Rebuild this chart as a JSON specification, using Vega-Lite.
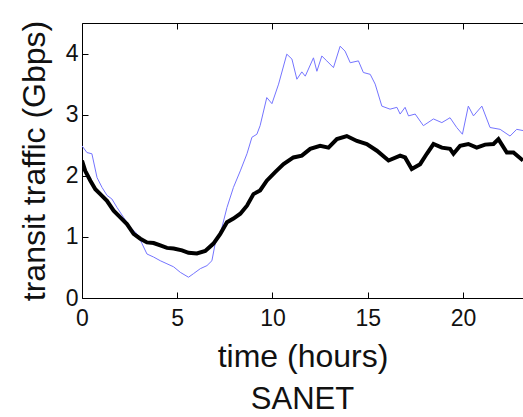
{
 "$schema": "https://vega.github.io/schema/vega-lite/v6.json",
 "width": 441, "height": 275,
 "autosize": "none",
 "padding": {"left": 82, "top": 23, "right": 0, "bottom": 119},
 "background": "white",
 "config": {"view": {"stroke": null}, "font": "Liberation Sans"},
 "title": {"text": "SANET", "orient": "bottom", "fontSize": 31, "fontWeight": "normal", "font": "Liberation Sans", "color": "#111", "offset": 13, "anchor": "middle"},
 "datasets": {
  "blue": [
   {"h":0,"v":2.49},{"h":0.26,"v":2.38},{"h":0.52,"v":2.36},{"h":0.79,"v":1.97},{"h":1.05,"v":1.81},{"h":1.31,"v":1.68},{"h":1.57,"v":1.62},{"h":1.84,"v":1.48},{"h":2.18,"v":1.32},{"h":2.53,"v":1.16},{"h":2.89,"v":1.05},{"h":3.15,"v":0.89},{"h":3.41,"v":0.72},{"h":3.76,"v":0.67},{"h":4.11,"v":0.61},{"h":4.46,"v":0.56},{"h":4.81,"v":0.51},{"h":5.16,"v":0.42},{"h":5.59,"v":0.34},{"h":5.86,"v":0.40},{"h":6.21,"v":0.48},{"h":6.56,"v":0.53},{"h":6.82,"v":0.61},{"h":6.99,"v":0.89},{"h":7.26,"v":1.05},{"h":7.61,"v":1.48},{"h":7.95,"v":1.81},{"h":8.31,"v":2.08},{"h":8.66,"v":2.36},{"h":8.92,"v":2.63},{"h":9.18,"v":2.68},{"h":9.35,"v":2.82},{"h":9.7,"v":3.28},{"h":9.97,"v":3.18},{"h":10.32,"v":3.5},{"h":10.75,"v":3.99},{"h":11.02,"v":3.91},{"h":11.28,"v":3.58},{"h":11.54,"v":3.70},{"h":11.72,"v":3.63},{"h":12.15,"v":3.93},{"h":12.33,"v":3.71},{"h":12.59,"v":3.96},{"h":12.85,"v":3.88},{"h":13.2,"v":3.77},{"h":13.55,"v":4.12},{"h":13.81,"v":4.04},{"h":14.08,"v":3.85},{"h":14.51,"v":3.88},{"h":14.77,"v":3.69},{"h":15.13,"v":3.66},{"h":15.39,"v":3.50},{"h":15.74,"v":3.14},{"h":16.17,"v":3.09},{"h":16.53,"v":3.12},{"h":16.7,"v":3.01},{"h":16.96,"v":3.12},{"h":17.14,"v":2.98},{"h":17.49,"v":3.01},{"h":17.92,"v":2.82},{"h":18.45,"v":2.93},{"h":18.89,"v":2.87},{"h":19.32,"v":2.95},{"h":19.67,"v":2.79},{"h":19.97,"v":2.68},{"h":20.28,"v":3.14},{"h":20.55,"v":2.98},{"h":20.99,"v":3.14},{"h":21.42,"v":2.79},{"h":21.95,"v":2.76},{"h":22.47,"v":2.65},{"h":22.82,"v":2.76},{"h":23.15,"v":2.74}
  ],
  "black": [
   {"h":0,"v":2.25},{"h":0.17,"v":2.08},{"h":0.44,"v":1.92},{"h":0.70,"v":1.78},{"h":0.96,"v":1.70},{"h":1.31,"v":1.59},{"h":1.66,"v":1.43},{"h":2.01,"v":1.32},{"h":2.36,"v":1.21},{"h":2.71,"v":1.05},{"h":3.06,"v":0.97},{"h":3.41,"v":0.91},{"h":3.76,"v":0.90},{"h":4.11,"v":0.86},{"h":4.46,"v":0.82},{"h":4.81,"v":0.81},{"h":5.25,"v":0.78},{"h":5.59,"v":0.74},{"h":6.03,"v":0.73},{"h":6.47,"v":0.77},{"h":6.9,"v":0.89},{"h":7.26,"v":1.05},{"h":7.61,"v":1.24},{"h":7.95,"v":1.30},{"h":8.31,"v":1.38},{"h":8.66,"v":1.51},{"h":9.0,"v":1.70},{"h":9.35,"v":1.76},{"h":9.7,"v":1.92},{"h":10.14,"v":2.06},{"h":10.58,"v":2.19},{"h":11.1,"v":2.30},{"h":11.54,"v":2.33},{"h":11.98,"v":2.44},{"h":12.5,"v":2.49},{"h":12.94,"v":2.46},{"h":13.38,"v":2.60},{"h":13.9,"v":2.65},{"h":14.43,"v":2.57},{"h":14.95,"v":2.52},{"h":15.48,"v":2.41},{"h":16.09,"v":2.25},{"h":16.7,"v":2.33},{"h":16.96,"v":2.30},{"h":17.31,"v":2.11},{"h":17.75,"v":2.19},{"h":18.1,"v":2.36},{"h":18.45,"v":2.52},{"h":18.89,"v":2.46},{"h":19.32,"v":2.44},{"h":19.5,"v":2.36},{"h":19.85,"v":2.49},{"h":20.28,"v":2.52},{"h":20.72,"v":2.46},{"h":21.16,"v":2.51},{"h":21.6,"v":2.52},{"h":21.86,"v":2.60},{"h":22.3,"v":2.38},{"h":22.65,"v":2.38},{"h":23.15,"v":2.25}
  ]
 },
 "layer": [
  {
   "data": {"name": "blue"},
   "mark": {"type": "line", "color": "#7474ff", "strokeWidth": 1, "clip": true},
   "encoding": {
    "x": {"field": "h", "type": "quantitative", "scale": {"domain": [0, 23.15], "nice": false, "zero": false},
     "axis": {"orient": "bottom", "values": [0, 5, 10, 15, 20], "format": "d", "grid": false, "tickSize": -6, "labelPadding": 15, "labelFontSize": 23, "labelColor": "#111", "labelFont": "Liberation Sans", "labelFlush": false, "domainColor": "black", "tickColor": "black", "title": "time (hours)", "titleFontSize": 32, "titleFontWeight": "normal", "titleFont": "Liberation Sans", "titleColor": "#111", "titlePadding": 11}},
    "y": {"field": "v", "type": "quantitative", "scale": {"domain": [0, 4.5], "nice": false},
     "axis": {"orient": "left", "values": [0, 1, 2, 3, 4], "format": "d", "grid": false, "tickSize": -6, "labelPadding": 10, "labelFontSize": 23, "labelColor": "#111", "labelFont": "Liberation Sans", "labelFlush": false, "domainColor": "black", "tickColor": "black", "title": "transit traffic (Gbps)", "titleFontSize": 32, "titleFontWeight": "normal", "titleFont": "Liberation Sans", "titleColor": "#111", "titlePadding": 14}}
   }
  },
  {
   "data": {"name": "black"},
   "mark": {"type": "line", "color": "#000000", "strokeWidth": 4, "clip": true},
   "encoding": {
    "x": {"field": "h", "type": "quantitative", "scale": {"domain": [0, 23.15], "nice": false, "zero": false},
     "axis": {"orient": "top", "values": [0, 5, 10, 15, 20], "grid": false, "tickSize": -6, "labels": false, "domainColor": "black", "tickColor": "black", "title": null}},
    "y": {"field": "v", "type": "quantitative", "scale": {"domain": [0, 4.5], "nice": false}}
   }
  }
 ],
 "resolve": {"axis": {"x": "independent"}}
}
